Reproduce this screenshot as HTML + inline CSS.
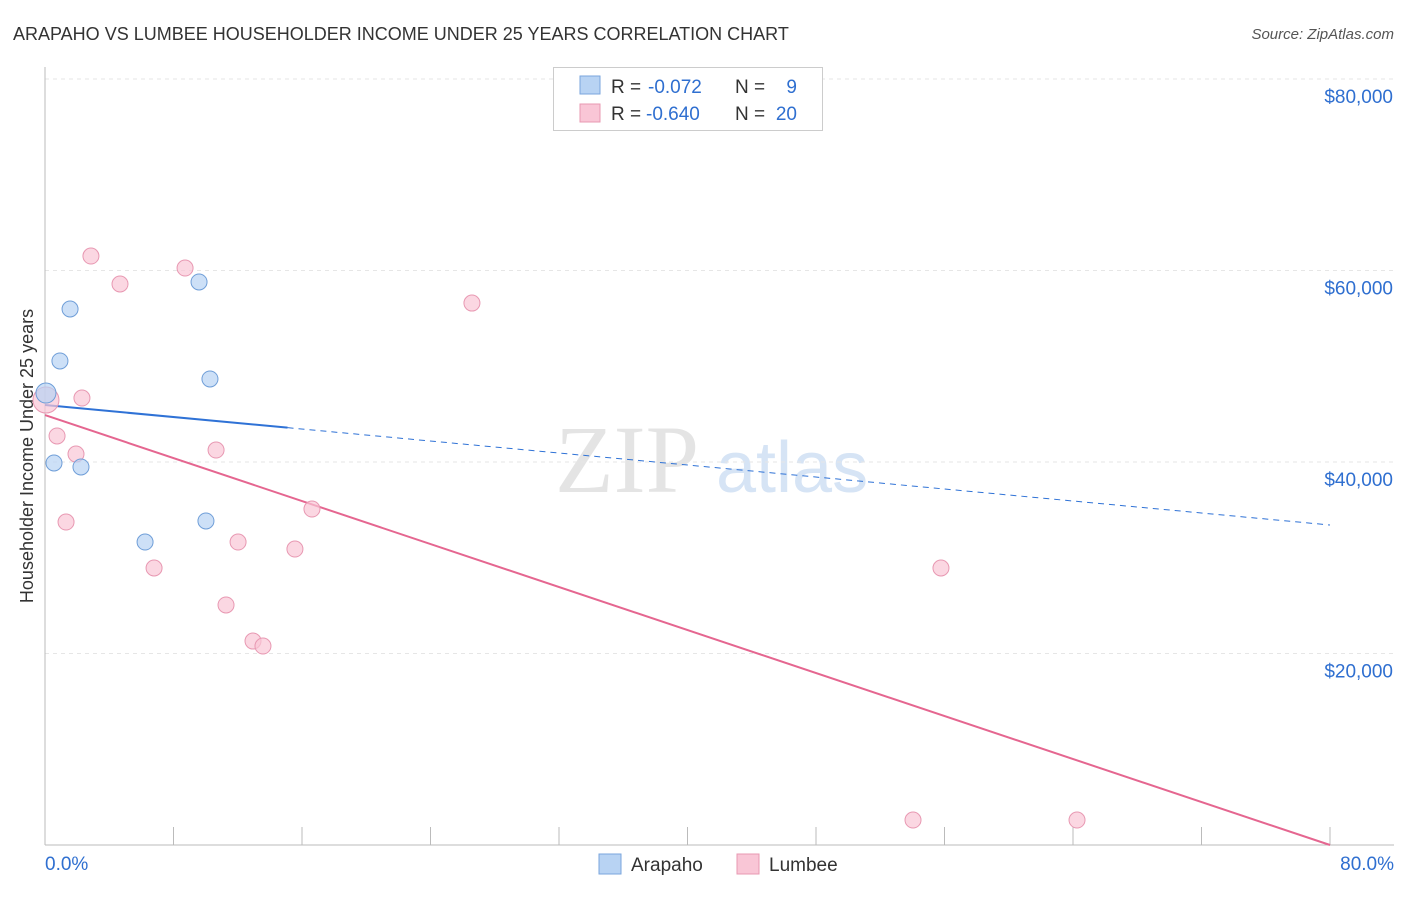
<!DOCTYPE html>
<html><head><meta charset="utf-8"><style>
body{margin:0;background:#fff;font-family:"Liberation Sans",sans-serif;}
</style></head><body>
<svg id="chart" width="1406" height="892" xmlns="http://www.w3.org/2000/svg">
<text x="13" y="40" font-size="18" fill="#333">ARAPAHO VS LUMBEE HOUSEHOLDER INCOME UNDER 25 YEARS CORRELATION CHART</text>
<text x="1394" y="39" font-size="15" fill="#555" font-style="italic" text-anchor="end">Source: ZipAtlas.com</text>
<text x="33" y="456" font-size="18" fill="#333" text-anchor="middle" transform="rotate(-90 33 456)">Householder Income Under 25 years</text>
<text x="555" y="492" font-size="96" fill="#e4e4e4" font-family="Liberation Serif,serif">ZIP</text>
<text x="716" y="492" font-size="72" fill="#d6e4f5">atlas</text>
<g id="grid"></g><g id="axes"></g><g id="lines"></g><g id="points"></g>
<g>
<rect x="553.5" y="67.5" width="269" height="63" fill="#fff" stroke="#ccc"/>
<rect x="580" y="76" width="20" height="18" fill="#b8d3f3" stroke="#7aa6dc"/>
<rect x="580" y="104" width="20" height="18" fill="#f9c6d6" stroke="#e898b2"/>
<text x="611" y="93" font-size="19" fill="#333">R =</text>
<text x="648" y="93" font-size="19" fill="#2f6fd0">-0.072</text>
<text x="735" y="93" font-size="19" fill="#333">N =</text>
<text x="797" y="93" font-size="19" fill="#2f6fd0" text-anchor="end">9</text>
<text x="611" y="120" font-size="19" fill="#333">R =</text>
<text x="646" y="120" font-size="19" fill="#2f6fd0">-0.640</text>
<text x="735" y="120" font-size="19" fill="#333">N =</text>
<text x="797" y="120" font-size="19" fill="#2f6fd0" text-anchor="end">20</text>
</g>
<g>
<rect x="599" y="854" width="22" height="20" fill="#b8d3f3" stroke="#7aa6dc"/>
<text x="631" y="871" font-size="19" fill="#333">Arapaho</text>
<rect x="737" y="854" width="22" height="20" fill="#f9c6d6" stroke="#e898b2"/>
<text x="769" y="871" font-size="19" fill="#333">Lumbee</text>
</g>
</svg>
<script>
const yTicks=[20000,40000,60000,80000];
const yTickLabels=["$20,000","$40,000","$60,000","$80,000"];
const xTickLabels=["0.0%","80.0%"];
const arapahoX=[0.06,1.56,0.93,0.56,2.24,9.59,10.27,10.02,6.23];
const arapahoY=[47200,55980,50550,39900,39480,58800,48670,33840,31640];
const lumbeeX=[2.86,4.67,8.72,26.58,2.30,0.75,1.93,1.31,10.65,16.62,12.02,15.56,6.79,11.27,12.95,13.57,55.78,54.04,64.25,0.06];
const lumbeeY=[61510,58590,60260,56600,46680,42720,40830,33730,41250,35090,31640,30910,28930,25070,21300,20780,28930,2610,2610,46470];
const arapahoTrend=[45950,33420];
const lumbeeTrend=[44900,0];
const NS="http://www.w3.org/2000/svg";
const X=v=>45+v/80*1285, Y=v=>845-v/20000*191.5;
function mk(p,t,a){const e=document.createElementNS(NS,t);for(const k in a)e.setAttribute(k,a[k]);document.getElementById(p).appendChild(e);return e;}
yTicks.forEach((t,i)=>{
 const g=mk('grid','line',{x1:45,x2:1394,y1:Y(t),y2:Y(t),stroke:'#e6e6e6','stroke-dasharray':'4,4'});
 
 
 const l=mk('grid','text',{x:1393,y:Y(t)+24,'font-size':19,fill:'#2f6fd0','text-anchor':'end'});
 l.textContent=yTickLabels[i];
 
 
});
const tg=mk('grid','line',{x1:45,x2:1394,y1:79,y2:79,stroke:'#e6e6e6','stroke-dasharray':'4,4'});


const ax=mk('axes','line',{x1:45,x2:1394,y1:845,y2:845,stroke:'#bbb'});


const ay=mk('axes','line',{x1:45,x2:45,y1:67,y2:845,stroke:'#bbb'});


for(let i=1;i<=10;i++){const t=mk('axes','line',{x1:X(i*8),x2:X(i*8),y1:827,y2:845,stroke:'#bbb'});
 
 }
const xl0=mk('axes','text',{x:45,y:870,'font-size':19,fill:'#2f6fd0'});xl0.textContent=xTickLabels[0];


const xl1=mk('axes','text',{x:1394,y:870,'font-size':19,fill:'#2f6fd0','text-anchor':'end'});xl1.textContent=xTickLabels[1];


const ya=v=>arapahoTrend[0]+(arapahoTrend[1]-arapahoTrend[0])*v/80;
const b1=mk('lines','line',{x1:X(0),y1:Y(ya(0)),x2:X(15.1),y2:Y(ya(15.1)),stroke:'#2f72d6','stroke-width':2});


const b2=mk('lines','line',{x1:X(15.1),y1:Y(ya(15.1)),x2:X(80),y2:Y(ya(80)),stroke:'#2f72d6','stroke-width':1,'stroke-dasharray':'6,5'});


const p1=mk('lines','line',{x1:X(0),y1:Y(lumbeeTrend[0]),x2:X(80),y2:Y(lumbeeTrend[1]),stroke:'#e56690','stroke-width':2});


lumbeeX.forEach((x,i)=>{const c=mk('points','circle',{cx:X(x),cy:Y(lumbeeY[i]),r:i==19?13:8,fill:'#f9c6d6','fill-opacity':0.7,stroke:'#e898b2'});
 
 });
arapahoX.forEach((x,i)=>{const c=mk('points','circle',{cx:X(x),cy:Y(arapahoY[i]),r:i==0?10:8,fill:'#b8d3f3','fill-opacity':0.7,stroke:'#6f9ed8'});
 
 });
</script>
</body></html>
